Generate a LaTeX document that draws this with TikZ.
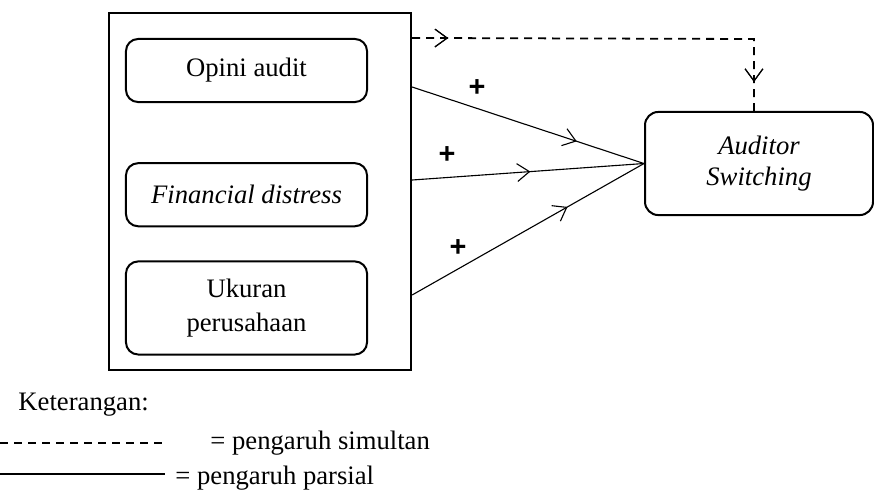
\documentclass[tikz,border=0pt]{standalone}
\usepackage{fontspec}
\setmainfont{Liberation Serif}
\newfontfamily\plusfont{Liberation Sans}
\usetikzlibrary{positioning}
\usetikzlibrary{arrows.meta}
\usetikzlibrary{decorations.markings}

\begin{document}
\begin{tikzpicture}[x=0.45pt,y=-0.45pt,
font=\fontsize{12}{14}\selectfont,
outerbox/.style={rectangle, draw, line width=1pt, minimum width=135.9pt, minimum height=160.7pt},
varnode/.style={rectangle, rounded corners=5.5pt, draw, line width=0.9pt, minimum width=108.5pt, minimum height=28.4pt, align=center, inner sep=0pt},
depnode/.style={rectangle, rounded corners=6pt, draw, line width=0.9pt, minimum width=102.6pt, minimum height=46.4pt, align=center, inner sep=0pt},
sign/.style={font=\plusfont\bfseries\fontsize{13}{14}\selectfont, inner sep=0pt},
legtext/.style={right, inner sep=0pt},
midarrow/.style={postaction={decorate}, decoration={markings, mark=at position #1 with {\arrow{Straight Barb[length=5.5pt,width=8pt,line width=0.5pt]}}}},
edge/.style={line width=0.5pt},
simedge/.style={line width=0.8pt, dash pattern=on 3.6pt off 2.7pt}
]
\useasboundingbox (0,0) rectangle (874,501);

%Nodes
\node[outerbox]        (outer)    at (260,191.5)            {};
\node[varnode]         (opini)    at (246.5,70.5)           {Opini audit};
\node[varnode]         (distress) [below=26.6pt of opini]   {\itshape Financial distress};
\node[varnode, minimum height=41.9pt, font=\fontsize{12}{15.3}\selectfont] (ukuran) [below=14.9pt of distress] {Ukuran\\perusahaan};
\node[depnode]         (switching) at (759,163.5)           {\itshape Auditor\\\itshape Switching};
\coordinate (corner) at (754,39);

%Signs
\node[sign] (plusA) at (477,88)  {+};
\node[sign] (plusB) at (447,155) {+};
\node[sign] (plusC) at (458,248) {+};

%Edges
\draw[simedge, midarrow=0.087, midarrow=0.93] (outer.east |- opini.north) -- (corner) -- (corner |- switching.north);
\draw[edge, midarrow=0.71] (outer.east |- 0,87)  -- (switching.west);
\draw[edge, midarrow=0.51] (outer.east |- 0,180) -- (switching.west);
\draw[edge, midarrow=0.67] (outer.east |- 0,295) -- (switching.west);

%Legend
\node[legtext] (ket) at (18,405) {Keterangan:};
\coordinate (simA) at (0,443);
\coordinate (simB) at (165,443);
\coordinate (parA) at (0,474);
\coordinate (parB) at (165,474);
\node[legtext] (simtext) at (210,443) {= pengaruh simultan};
\node[legtext] (partext) at (175,478) {= pengaruh parsial};
\draw[simedge, line width=0.6pt] (simA) -- (simB);
\draw[edge] (parA) -- (parB);

\end{tikzpicture}
\end{document}
